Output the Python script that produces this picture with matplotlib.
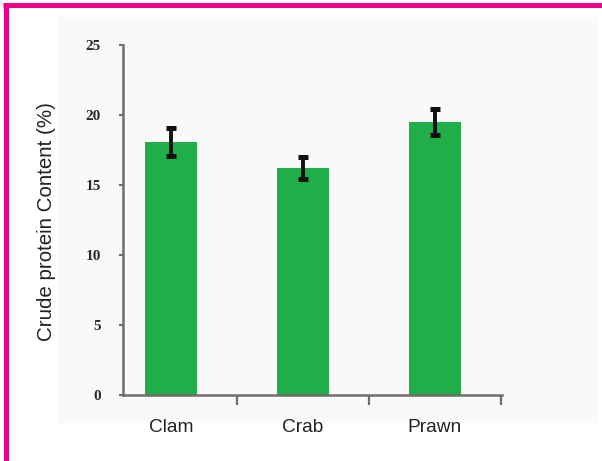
import matplotlib
matplotlib.use("Agg")
import matplotlib.pyplot as plt
from matplotlib.lines import Line2D

categories = ["Clam", "Crab", "Prawn"]
values = [18.1, 16.2, 19.5]
errors = [1.0, 0.8, 0.95]
yticks = [0, 5, 10, 15, 20, 25]

W, H = 602, 461
fig = plt.figure(figsize=(W / 100, H / 100), dpi=100)
fig.patch.set_facecolor("white")

# faint plot-image background
bg = fig.add_axes([57 / W, 1 - 423 / H, (597 - 57) / W, (423 - 17) / H], zorder=0)
bg.set_axis_off()
bg.add_patch(plt.Rectangle((0, 0), 1, 1, transform=bg.transAxes,
                           facecolor="#f8f9f9", edgecolor="none"))

# magenta frame (top and left)
fig.add_artist(Line2D([3 / W, 1.0], [1 - 5 / H, 1 - 5 / H], transform=fig.transFigure,
                      color="#ec008c", linewidth=3.6, solid_capstyle="butt"))
fig.add_artist(Line2D([5.5 / W, 5.5 / W], [0, 1 - 3 / H], transform=fig.transFigure,
                      color="#ec008c", linewidth=3.6, solid_capstyle="butt"))

ax = fig.add_axes([123 / W, 1 - 395 / H, (502 - 123) / W, (395 - 45) / H], zorder=2)
ax.set_facecolor("none")
x = list(range(len(categories)))
ax.bar(x, values, width=0.395, color="#22ad4b", zorder=2)
ax.errorbar(x, values, yerr=errors, fmt="none", ecolor="#111111", elinewidth=2.8,
            capsize=3.5, capthick=3.6, zorder=3)

ax.set_xlim(-0.364, 2.508)
ax.set_ylim(0, 25)
for s in ["top", "right"]:
    ax.spines[s].set_visible(False)
axc = "#736d69"
for s in ["left", "bottom"]:
    ax.spines[s].set_color(axc)
    ax.spines[s].set_linewidth(1.8)

ax.set_yticks(yticks)
ax.set_yticklabels([str(v) for v in yticks], fontfamily="Liberation Serif",
                   fontweight="bold", fontsize=11, color="#2a2a2a")
ax.tick_params(axis="y", length=3, width=1.5, color=axc, pad=13)

ax.set_xticks([0.5, 1.5, 2.5], minor=True)
ax.set_xticks(x)
ax.set_xticklabels(categories, fontfamily="Liberation Sans", fontsize=13.8,
                   color="#222222")
ax.tick_params(axis="x", which="major", length=0, pad=17)
ax.tick_params(axis="x", which="minor", length=7, width=1.6, color=axc)

fig.text(47 / W, 1 - 222 / H, "Crude protein Content (%)", rotation=90,
         ha="center", va="center", fontfamily="Liberation Sans",
         fontsize=14.8, color="#222222")

fig.savefig("out.png", dpi=100)
